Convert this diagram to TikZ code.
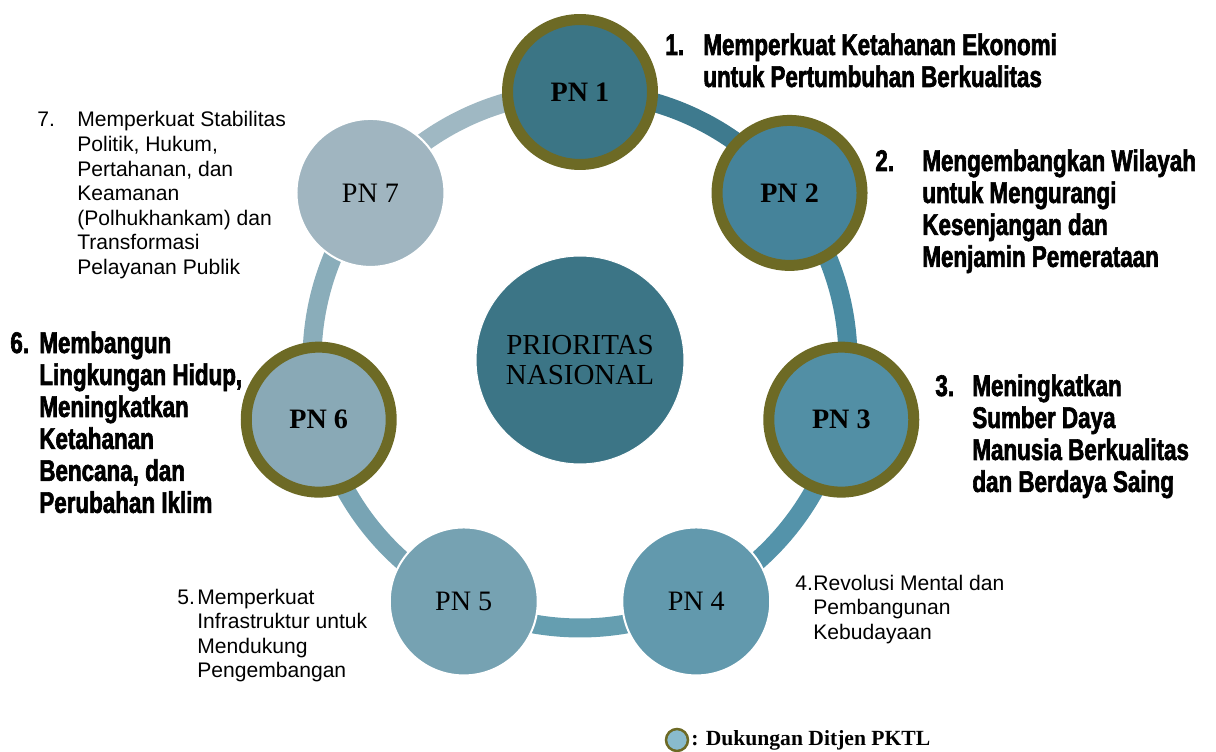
\documentclass[tikz,border=0pt]{standalone}
\usepackage{fontspec}
\setmainfont{Liberation Sans}
\newfontfamily\seriffont{Liberation Serif}
\newfontfamily\heavyfont[FakeStretch=0.75,FakeBold=2]{Liberation Sans Bold}
\usepackage{tikz}
\usetikzlibrary{positioning,backgrounds,calc}
\definecolor{olive}{RGB}{109,106,37}
\definecolor{pusat}{RGB}{60,117,134}
\definecolor{pna}{RGB}{59,117,133}
\definecolor{pnb}{RGB}{69,131,154}
\definecolor{pnc}{RGB}{82,143,165}
\definecolor{pnd}{RGB}{98,153,173}
\definecolor{pne}{RGB}{118,162,178}
\definecolor{pnf}{RGB}{137,169,182}
\definecolor{png}{RGB}{160,181,192}
\definecolor{rab}{RGB}{62,122,142}
\definecolor{rbc}{RGB}{74,139,162}
\definecolor{rcd}{RGB}{84,147,170}
\definecolor{rde}{RGB}{101,158,176}
\definecolor{ref}{RGB}{120,164,180}
\definecolor{rfg}{RGB}{138,173,186}
\definecolor{rga}{RGB}{159,184,195}
\definecolor{legende}{RGB}{137,187,205}

\tikzset{
    pnring/.style={circle, draw=olive, line width=0.22cm, minimum size=2.9cm,
        inner sep=0pt, font=\seriffont\bfseries\fontsize{16}{18}\selectfont},
    pnplain/.style={circle, draw=white, line width=0.04cm, minimum size=2.96cm,
        inner sep=0pt, font=\seriffont\fontsize{16}{18}\selectfont},
    ringseg/.style={line width=0.38cm},
    heavytext/.style={anchor=base west, inner sep=0pt,
        font=\heavyfont\fontsize{17}{18.2}\selectfont},
    plaintext/.style={anchor=base west, inner sep=0pt,
        font=\fontsize{12}{14}\selectfont}
}

\begin{document}
\begin{tikzpicture}[x=0.02cm, y=0.02cm]

    \useasboundingbox (0,0) rectangle (1216,751);

    % Cercle central
    \node[circle, fill=pusat, draw=white, line width=0.02cm, minimum size=4.16cm,
        align=center, font=\seriffont\fontsize{16.5}{17}\selectfont] (pusat) at (580,391)
        {PRIORITAS\\NASIONAL};

    % Les sept priorites autour
    \node[pnring, fill=pna] (pn1) at ($(580,391)+(90:268)$) {PN 1};
    \node[pnring, fill=pnb] (pn2) at ($(580,391)+(38.57:268)$) {PN 2};
    \node[pnring, fill=pnc] (pn3) at ($(580,391)+(-12.86:268)$) {PN 3};
    \node[pnplain, fill=pnd] (pn4) at ($(580,391)+(-64.29:268)$) {PN 4};
    \node[pnplain, fill=pne] (pn5) at ($(580,391)+(-115.71:268)$) {PN 5};
    \node[pnring, fill=pnf] (pn6) at ($(580,391)+(-167.14:268)$) {PN 6};
    \node[pnplain, fill=png] (pn7) at ($(580,391)+(141.43:268)$) {PN 7};

    % Anneau (derriere les cercles)
    \begin{scope}[on background layer]
        \draw[ringseg, rab] (pn1.center) arc[start angle=90, end angle=38.57, radius=268];
        \draw[ringseg, rbc] (pn2.center) arc[start angle=38.57, end angle=-12.86, radius=268];
        \draw[ringseg, rcd] (pn3.center) arc[start angle=-12.86, end angle=-64.29, radius=268];
        \draw[ringseg, rde] (pn4.center) arc[start angle=-64.29, end angle=-115.71, radius=268];
        \draw[ringseg, ref] (pn5.center) arc[start angle=-115.71, end angle=-167.14, radius=268];
        \draw[ringseg, rfg] (pn6.center) arc[start angle=-167.14, end angle=-218.57, radius=268];
        \draw[ringseg, rga] (pn7.center) arc[start angle=141.43, end angle=90, radius=268];
    \end{scope}

    % Libelles
    \node[heavytext] (lab1) at (665,696) {\begin{tabular}[t]{@{}p{0.76cm}@{}l@{}}
        1. & Memperkuat Ketahanan Ekonomi\\
           & untuk Pertumbuhan Berkualitas
        \end{tabular}};
    \node[heavytext] (lab2) at (875,580) {\begin{tabular}[t]{@{}p{0.94cm}@{}l@{}}
        2. & Mengembangkan Wilayah\\
           & untuk Mengurangi\\
           & Kesenjangan dan\\
           & Menjamin Pemerataan
        \end{tabular}};
    \node[heavytext] (lab3) at (935,355) {\begin{tabular}[t]{@{}p{0.74cm}@{}l@{}}
        3. & Meningkatkan\\
           & Sumber Daya\\
           & Manusia Berkualitas\\
           & dan Berdaya Saing
        \end{tabular}};
    \node[plaintext] (lab4) at (795,161) {\begin{tabular}[t]{@{}p{0.36cm}@{}l@{}}
        4. & Revolusi Mental dan\\
           & Pembangunan\\
           & Kebudayaan
        \end{tabular}};
    \node[plaintext] (lab5) at (177,147) {\begin{tabular}[t]{@{}p{0.4cm}@{}l@{}}
        5. & Memperkuat\\
           & Infrastruktur untuk\\
           & Mendukung\\
           & Pengembangan
        \end{tabular}};
    \node[heavytext] (lab6) at (10,398) {\begin{tabular}[t]{@{}p{0.58cm}@{}l@{}}
        6. & Membangun\\
           & Lingkungan Hidup,\\
           & Meningkatkan\\
           & Ketahanan\\
           & Bencana, dan\\
           & Perubahan Iklim
        \end{tabular}};
    \node[plaintext] (lab7) at (37,624) {\begin{tabular}[t]{@{}p{0.8cm}@{}l@{}}
        7. & Memperkuat Stabilitas\\
           & Politik, Hukum,\\
           & Pertahanan, dan\\
           & Keamanan\\
           & (Polhukhankam) dan\\
           & Transformasi\\
           & Pelayanan Publik
        \end{tabular}};

    % Legende
    \node[circle, draw=olive, fill=legende, line width=0.05cm, minimum size=0.44cm,
        inner sep=0pt] (leg) at (677,11) {};
    \node[right=1pt of leg, inner sep=0pt,
        font=\seriffont\bfseries\fontsize{12.3}{14}\selectfont] (legtext) {: Dukungan Ditjen PKTL};

\end{tikzpicture}
\end{document}
